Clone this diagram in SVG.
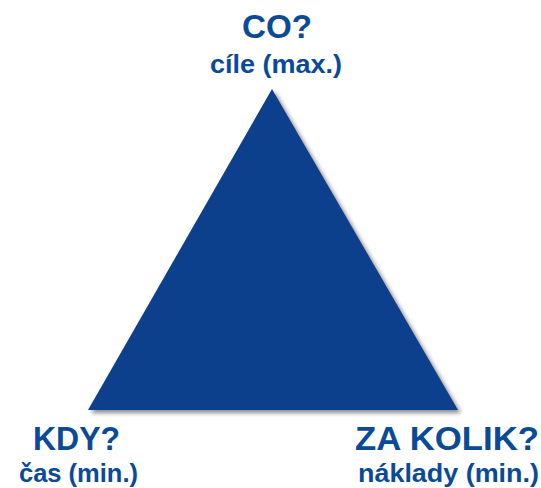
<svg xmlns="http://www.w3.org/2000/svg" width="541" height="488" viewBox="0 0 541 488">
<style>
.t{font-family:"Liberation Sans",Arial,sans-serif;font-weight:bold;fill:#0B4A96}
.h{font-size:33px}
.s{font-size:26.5px}
</style>
<defs>
<filter id="sh" x="-10%" y="-10%" width="130%" height="130%">
<feGaussianBlur in="SourceAlpha" stdDeviation="2"/>
<feOffset dx="3" dy="3" result="b"/>
<feFlood flood-color="#000" flood-opacity="0.45"/>
<feComposite in2="b" operator="in"/>
<feMerge><feMergeNode/><feMergeNode in="SourceGraphic"/></feMerge>
</filter>
</defs>
<rect width="541" height="488" fill="#fff"/>
<g id="triangle">
<polygon points="272,89 88,410 458,410" fill="#0E3F8C" filter="url(#sh)"/>
</g>
<g id="top">
<text class="t h" x="242" y="38" textLength="70" lengthAdjust="spacingAndGlyphs">CO?</text>
<text class="t s" x="210" y="73" textLength="132" lengthAdjust="spacingAndGlyphs">cíle (max.)</text>
</g>
<g id="left">
<text class="t h" x="33" y="450" textLength="87" lengthAdjust="spacingAndGlyphs">KDY?</text>
<text class="t s" x="19" y="482" textLength="119" lengthAdjust="spacingAndGlyphs">čas (min.)</text>
</g>
<g id="right">
<text class="t h" x="355" y="450" textLength="184" lengthAdjust="spacingAndGlyphs">ZA KOLIK?</text>
<text class="t s" x="358" y="482" textLength="181" lengthAdjust="spacingAndGlyphs">náklady (min.)</text>
</g>
<g id="connectors"/>
</svg>
